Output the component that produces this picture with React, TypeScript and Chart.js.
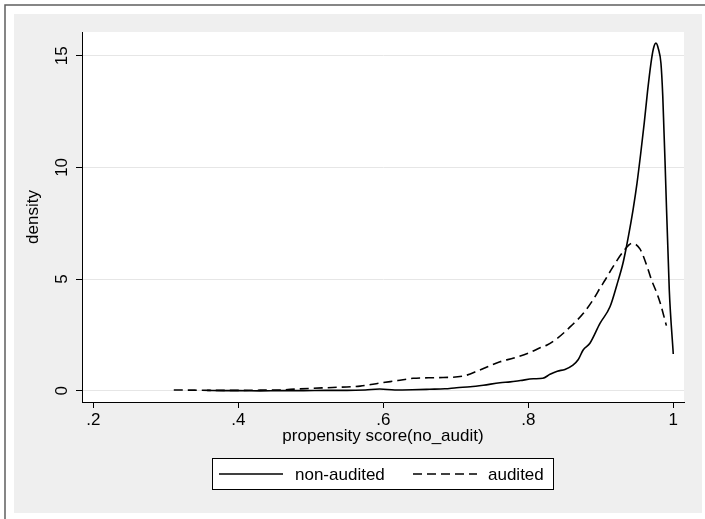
import React, { useEffect, useRef } from 'react';
import { Chart, registerables } from 'chart.js';

Chart.register(...registerables);

// ---- data ----
const nonAuditedX = [0.357, 0.38, 0.40, 0.43, 0.46, 0.49, 0.52, 0.55, 0.575, 0.595, 0.616, 0.64, 0.664, 0.685, 0.701, 0.72, 0.738, 0.761, 0.775, 0.789, 0.807, 0.82, 0.83, 0.84, 0.8506, 0.8616, 0.869, 0.8757, 0.885, 0.8989, 0.9127, 0.9223, 0.9306, 0.9357, 0.9403, 0.945, 0.95, 0.955, 0.96, 0.9645, 0.9692, 0.9725, 0.9761, 0.9795, 0.983, 0.9855, 0.9871, 0.9886, 0.9945, 1.0];
const nonAuditedY = [0.02, 0.01, 0.01, 0.0, 0.01, 0.01, 0.02, 0.02, 0.04, 0.08, 0.04, 0.05, 0.07, 0.09, 0.14, 0.18, 0.25, 0.36, 0.4, 0.46, 0.54, 0.56, 0.74, 0.88, 0.96, 1.15, 1.4, 1.83, 2.13, 3.02, 3.76, 4.75, 5.71, 6.5, 7.3, 8.2, 9.3, 10.6, 12.0, 13.4, 14.66, 15.3, 15.56, 15.3, 14.66, 13.2, 11.7, 10.3, 4.51, 1.65];

const auditedX = [0.311, 0.34, 0.37, 0.40, 0.43, 0.458, 0.48, 0.499, 0.53, 0.568, 0.596, 0.62, 0.641, 0.674, 0.71, 0.733, 0.761, 0.78, 0.802, 0.817, 0.826, 0.84, 0.858, 0.876, 0.892, 0.899, 0.906, 0.917, 0.931, 0.943, 0.954, 0.9655, 0.97, 0.9775, 0.982, 0.9905];
const auditedY = [0.04, 0.03, 0.02, 0.02, 0.03, 0.04, 0.08, 0.11, 0.15, 0.21, 0.35, 0.46, 0.56, 0.59, 0.66, 0.93, 1.3, 1.47, 1.71, 1.94, 2.05, 2.35, 2.87, 3.47, 4.21, 4.6, 4.96, 5.56, 6.23, 6.6, 6.35, 5.41, 4.96, 4.36, 3.93, 2.92];

const seriesLabels = ['non-audited', 'audited'];
const xTicks = [0.2, 0.4, 0.6, 0.8, 1];
const yTicks = [0, 5, 10, 15];
const xTitle = 'propensity score(no_audit)';
const yTitle = 'density';

const FONT = '"Liberation Sans", Arial, Helvetica, sans-serif';
const FS = 17;

export default function App() {
  const ref = useRef<HTMLCanvasElement>(null);

  useEffect(() => {
    document.body.style.margin = '0';
    const canvas = ref.current;
    if (!canvas) return;

    const bgPlugin = {
      id: 'stataBg',
      beforeDraw(chart: any) {
        const ctx = chart.ctx;
        const { left, top, right, bottom } = chart.chartArea;
        ctx.save();
        ctx.fillStyle = '#ffffff';
        ctx.fillRect(0, 0, chart.width, chart.height);
        ctx.fillStyle = '#efefef';
        ctx.fillRect(14, 14, 688, 499);
        ctx.fillStyle = '#ffffff';
        ctx.fillRect(left, top, right - left, bottom - top);
        ctx.strokeStyle = '#5f5f5f';
        ctx.lineWidth = 1.5;
        ctx.beginPath();
        ctx.moveTo(5, chart.height);
        ctx.lineTo(5, 5);
        ctx.lineTo(chart.width, 5);
        ctx.stroke();
        ctx.restore();
      },
    };

    const legendPlugin = {
      id: 'stataLegend',
      afterDraw(chart: any) {
        const ctx = chart.ctx;
        const ds = chart.data.datasets;
        const boxL = 212, boxR = 554, boxT = 458, boxB = 490;
        const cy = (boxT + boxB) / 2;
        ctx.save();
        ctx.fillStyle = '#ffffff';
        ctx.fillRect(boxL, boxT, boxR - boxL, boxB - boxT);
        ctx.strokeStyle = '#000';
        ctx.lineWidth = 1;
        ctx.strokeRect(boxL + 0.5, boxT + 0.5, boxR - boxL - 1, boxB - boxT - 1);
        const items = [
          { x0: 219, x1: 283, tx: 295 },
          { x0: 413, x1: 477, tx: 488 },
        ];
        ctx.font = `${FS}px ${FONT}`;
        ctx.textBaseline = 'middle';
        ctx.textAlign = 'left';
        items.forEach((it, i) => {
          ctx.strokeStyle = '#000';
          ctx.lineWidth = 1.5;
          ctx.setLineDash(ds[i].borderDash || []);
          ctx.beginPath();
          ctx.moveTo(it.x0, cy);
          ctx.lineTo(it.x1, cy);
          ctx.stroke();
          ctx.setLineDash([]);
          ctx.fillStyle = '#000';
          ctx.fillText(ds[i].label, it.tx, cy + 1);
        });
        ctx.restore();
      },
    };

    const chart = new Chart(canvas, {
      type: 'line',
      data: {
        datasets: [
          {
            label: seriesLabels[0],
            data: nonAuditedX.map((x, i) => ({ x, y: nonAuditedY[i] })),
            borderColor: '#000',
            borderWidth: 1.6,
            pointRadius: 0,
            fill: false,
            cubicInterpolationMode: 'monotone',
          },
          {
            label: seriesLabels[1],
            data: auditedX.map((x, i) => ({ x, y: auditedY[i] })),
            borderColor: '#000',
            borderWidth: 1.6,
            borderDash: [9, 5],
            pointRadius: 0,
            fill: false,
            cubicInterpolationMode: 'monotone',
          },
        ],
      },
      options: {
        animation: false,
        responsive: false,
        devicePixelRatio: 1,
        layout: { padding: { left: 0, top: 32, right: 21, bottom: 0 } },
        plugins: { legend: { display: false }, tooltip: { enabled: false } },
        scales: {
          x: {
            type: 'linear',
            min: 0.1844,
            max: 1.0148,
            afterFit: (s: any) => { s.height = 117; },
            afterBuildTicks: (s: any) => { s.ticks = xTicks.map((v) => ({ value: v })); },
            grid: { drawOnChartArea: false, drawTicks: true, tickLength: 6, tickColor: '#000', tickWidth: 1 },
            border: { display: true, color: '#000', width: 1 },
            ticks: {
              color: '#000',
              font: { family: FONT, size: FS },
              padding: 2,
              maxRotation: 0,
              autoSkip: false,
              callback: (v: any) => String(v).replace(/^0\./, '.'),
            },
            title: {
              display: true,
              text: xTitle,
              color: '#000',
              font: { family: FONT, size: FS },
              padding: { top: 0, bottom: 72 },
            },
          },
          y: {
            type: 'linear',
            min: -0.5,
            max: 16.06,
            afterFit: (s: any) => { s.width = 82; },
            afterBuildTicks: (s: any) => { s.ticks = yTicks.map((v) => ({ value: v })); },
            grid: { color: '#e6e6e6', lineWidth: 1, drawTicks: true, tickLength: 6, tickColor: '#000', tickWidth: 1 },
            border: { display: true, color: '#000', width: 1 },
            ticks: {
              color: '#000',
              font: { family: FONT, size: FS },
              padding: 4,
              minRotation: 90,
              maxRotation: 90,
              crossAlign: 'center',
              autoSkip: false,
              callback: (v: any) => String(v),
            },
            title: {
              display: true,
              text: yTitle,
              color: '#000',
              font: { family: FONT, size: FS },
              padding: { top: 23, bottom: 0 },
            },
          },
        },
      },
      plugins: [bgPlugin, legendPlugin],
    } as any);

    return () => chart.destroy();
  }, []);

  return (
    <div style={{ width: 705, height: 519 }}>
      <canvas ref={ref} width={705} height={519} style={{ display: 'block' }} />
    </div>
  );
}
